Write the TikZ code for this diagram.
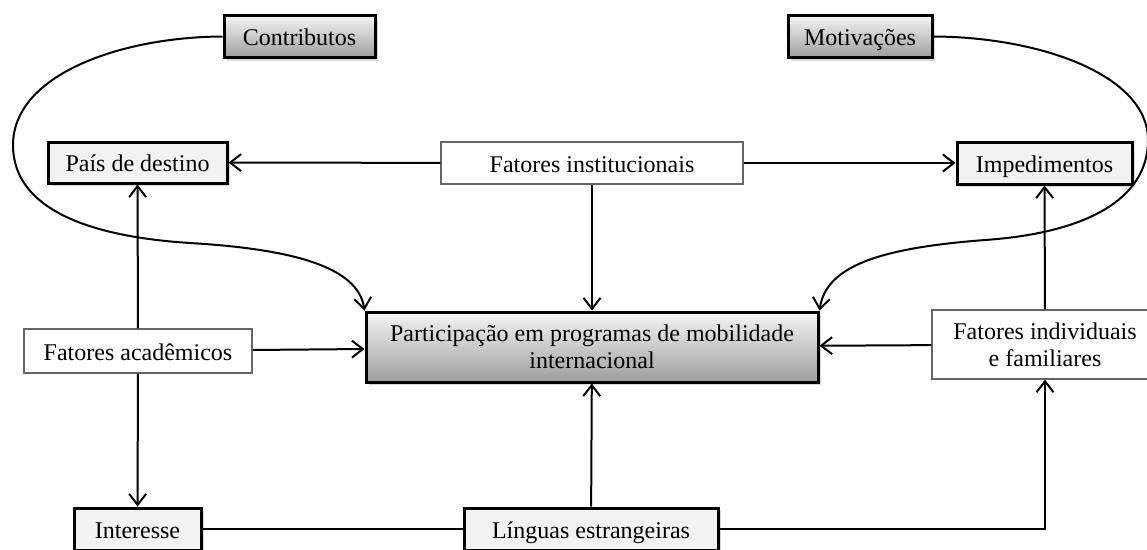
\documentclass[tikz,border=0pt]{standalone}
\usepackage{fontspec}
\setmainfont{Liberation Serif}
\usetikzlibrary{arrows.meta,shadows}

\begin{document}
\begin{tikzpicture}[x=1pt,y=-1pt,
  font=\fontsize{24}{27}\selectfont,
  >={Straight Barb[length=11pt,width=17pt]},
  line/.style={line width=2pt},
  oneline/.style={text height=24pt,text depth=6pt},
  factor/.style={draw=black!60,line width=1.2pt,fill=white,align=center,inner sep=0pt},
  plain/.style={draw,line width=3pt,fill=black!5,align=center,inner sep=0pt,
    drop shadow={shadow xshift=3pt,shadow yshift=-3pt,opacity=0.3}},
  shaded/.style={draw,line width=3pt,top color=black!4,bottom color=black!38,align=center,inner sep=0pt,
    drop shadow={shadow xshift=3pt,shadow yshift=-3pt,opacity=0.3}}]
\useasboundingbox (0,0) rectangle (1147,549);
%boxes
%top
\node[shaded,oneline,minimum width=151pt,minimum height=42pt] (contr) at (299.5,36.5) {Contributos};
\node[shaded,oneline,minimum width=144pt,minimum height=42pt] (motiv) at (860,36.5) {Motivações};
%second row
\node[plain,oneline,minimum width=179pt,minimum height=41pt] (pais) at (137.5,162.5) {País de destino};
\node[factor,oneline,minimum width=302pt,minimum height=42pt] (finst) at (592,163) {Fatores institucionais};
\node[plain,oneline,minimum width=175pt,minimum height=42pt] (imped) at (1044.5,163) {Impedimentos};
%middle
\node[factor,oneline,minimum width=228pt,minimum height=44pt] (facad) at (138,351) {Fatores acadêmicos};
\node[shaded,minimum width=452pt,minimum height=70pt] (part) at (592,347) {Participação em programas de mobilidade\\internacional};
\node[factor,minimum width=226pt,minimum height=69pt] (find) at (1045,344.5) {Fatores individuais\\e familiares};
%bottom
\node[plain,oneline,minimum width=127pt,minimum height=42pt] (inter) at (137.5,529) {Interesse};
\node[plain,oneline,minimum width=254pt,minimum height=42pt] (lang) at (591,529) {Línguas estrangeiras};

%arrows
\draw[line,->] (finst) -- (pais);
\draw[line,->] (finst) -- (imped);
\draw[line,->] (finst) -- (part);
\draw[line,->] (facad) -- (pais);
\draw[line,->] (facad) -- (inter);
\draw[line,->] (facad) -- (part);
\draw[line,->] (find) -- (part);
\draw[line,->] (find) -- (imped);
\draw[line,->] (lang) -- (part);
\draw[line] (inter) -- (lang);
\draw[line,->] (lang) -| (find);
%curves
\draw[line,->] (contr.west) .. controls (120,37) and (13,75) .. (13,145)
  .. controls (13,205) and (80,236) .. (190,243)
  .. controls (290,249) and (358,266) .. (part.north west);
\draw[line,->] (motiv.east) .. controls (1040,37) and (1148,75) .. (1148,140)
  .. controls (1148,200) and (1085,233) .. (985,240)
  .. controls (880,248) and (826,266) .. (part.north east);
\end{tikzpicture}
\end{document}
